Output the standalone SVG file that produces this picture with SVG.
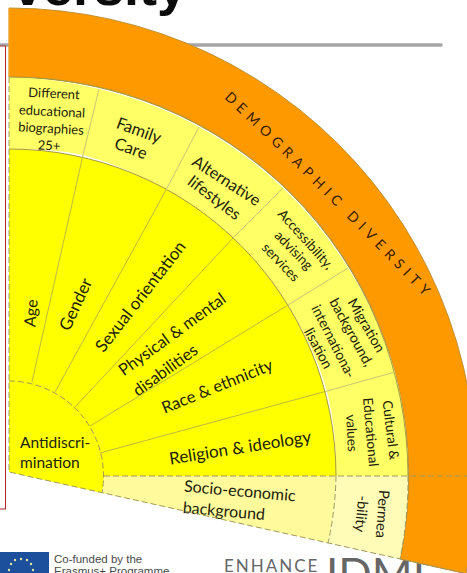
<svg xmlns="http://www.w3.org/2000/svg" width="467" height="573" viewBox="0 0 467 573">
<style>
.l{font-family:Lato,"Open Sans",sans-serif;fill:#22220c;text-anchor:middle;dominant-baseline:central}
.edge{stroke:#a89a40;stroke-width:1;fill:none}
.dash{stroke:#a09a60;stroke-width:1;fill:none;stroke-dasharray:6 3}
.div{stroke:#bcbc40;stroke-width:1;fill:none}
.div2{stroke:#c8c870;stroke-width:1;fill:none}
.star{fill:#e8e6a0}
</style>
<rect width="467" height="573" fill="#fff"/>
<text id="title" x="187" y="5" font-family="Liberation Sans,sans-serif" font-weight="700" font-size="54" text-anchor="end" fill="#0c0c0c">versity</text>
<path id="rule" d="M-2 45H441" stroke="#a6a6a6" stroke-width="3.5" stroke-linecap="round" fill="none"/>
<rect id="frame" x="-2" y="46" width="7.5" height="463" fill="#fff" stroke="#b02828" stroke-width="1"/>
<g id="footer">
<rect x="0" y="552" width="49" height="22" fill="#1c4f9c"/>
<g class="star"><circle cx="21" cy="559" r="1.2"/><circle cx="15" cy="560" r="1.2"/><circle cx="27" cy="560" r="1.2"/><circle cx="11" cy="564" r="1.2"/><circle cx="31" cy="564" r="1.2"/><circle cx="9" cy="570" r="1.2"/><circle cx="33" cy="570" r="1.2"/></g>
<text x="54" y="563" font-family="Liberation Sans,sans-serif" font-size="11.5" fill="#4a4a4a">Co-funded by the</text>
<text x="54" y="575" font-family="Liberation Sans,sans-serif" font-size="11.5" fill="#4a4a4a">Erasmus+ Programme</text>
<text x="224" y="572" font-family="Lato,sans-serif" font-size="17" letter-spacing="2" fill="#666">ENHANCE</text>
<text x="326" y="590" font-family="Lato,sans-serif" font-size="44" fill="#666">IDMI</text>
</g>
<g id="orange-band">
<path d="M9 8A468 468 0 0 1 466 573.6L400 559A399 399 0 0 0 9 77Z" fill="#ff9900" stroke="#c09030" stroke-width="1"/>
<path d="M9 8V77" stroke="#ffb030" fill="none"/>
<text font-family="Lato,sans-serif" font-size="14" fill="#3a2000" letter-spacing="5.25"><textPath href="#demo">DEMOGRAPHIC DIVERSITY</textPath></text>
<path id="demo" d="M224 98Q330 198 445 318" fill="none"/>
</g>
<g id="node-different"><path d="M9 77A399 399 0 0 1 99 89L83 155A327 327 0 0 0 9 149Z" fill="#ffff66"/>
<text class="l" font-size="13" transform="translate(54 93) rotate(3)">Different</text>
<text class="l" font-size="13" transform="translate(52 111) rotate(3)">educational</text>
<text class="l" font-size="13" transform="translate(51 128) rotate(3)">biographies</text>
<text class="l" font-size="13" transform="translate(49 145) rotate(3)">25+</text></g>
<g id="node-family"><path d="M99 89A399 399 0 0 1 199 127L166 190A327 327 0 0 0 83 155Z" fill="#ffff66"/>
<text class="l" font-size="16.5" transform="translate(139 130) rotate(20)">Family</text>
<text class="l" font-size="16.5" transform="translate(131 148) rotate(20)">Care</text></g>
<g id="node-alternative"><path d="M199 127A399 399 0 0 1 283 188L233 238A327 327 0 0 0 166 190Z" fill="#ffff66"/>
<text class="l" font-size="16" transform="translate(227 180) rotate(33)">Alternative</text>
<text class="l" font-size="16" transform="translate(215 197) rotate(37)">lifestyles</text></g>
<g id="node-accessibility"><path d="M283 188A399 399 0 0 1 348 268L288 305A327 327 0 0 0 233 238Z" fill="#ffff66"/>
<text class="l" font-size="13.5" transform="translate(306 239) rotate(48)">Accessibility,</text>
<text class="l" font-size="13.5" transform="translate(294 250) rotate(46)">advising</text>
<text class="l" font-size="13.5" transform="translate(281 262) rotate(46)">services</text></g>
<g id="node-migration"><path d="M348 268A399 399 0 0 1 395 372L327 391A327 327 0 0 0 288 305Z" fill="#ffff66"/>
<text class="l" font-size="14" transform="translate(367 325) rotate(60)">Migration</text>
<text class="l" font-size="14" transform="translate(352 332) rotate(61)">background,</text>
<text class="l" font-size="14" transform="translate(334 341) rotate(63)">internationa-</text>
<text class="l" font-size="14" transform="translate(319 348) rotate(62)">lisation</text></g>
<g id="node-cultural"><path d="M395 372A399 399 0 0 1 408 476H336A327 327 0 0 0 327 391Z" fill="#ffff66"/>
<text class="l" font-size="13.5" transform="translate(391 430) rotate(83)">Cultural &amp;</text>
<text class="l" font-size="13.5" transform="translate(371 432) rotate(85)">Educational</text>
<text class="l" font-size="13.5" transform="translate(352 433) rotate(87)">values</text></g>
<g id="node-core"><path d="M9 149A327 327 0 0 1 336 476H104A95 95 0 0 1 102 493L9 472Z" fill="#ffff00"/></g>
<g id="node-age"><text class="l" font-size="16" transform="translate(30 313) rotate(-85)">Age</text></g>
<g id="node-gender"><text class="l" font-size="17" transform="translate(75 304) rotate(-65)">Gender</text></g>
<g id="node-sexual"><text class="l" font-size="17" transform="translate(140 296) rotate(-52)">Sexual orientation</text></g>
<g id="node-physical"><text class="l" font-size="16.5" transform="translate(172 334) rotate(-36)">Physical &amp; mental</text>
<text class="l" font-size="16.5" transform="translate(165 370) rotate(-36)">disabilities</text></g>
<g id="node-race"><text class="l" font-size="16.5" transform="translate(217 386) rotate(-22)">Race &amp; ethnicity</text></g>
<g id="node-religion"><text class="l" font-size="17" transform="translate(240 447) rotate(-9)">Religion &amp; ideology</text></g>
<g id="node-antidiscrimination"><text class="l" font-size="15.5" style="text-anchor:start" x="20" y="442">Antidiscri-</text>
<text class="l" font-size="15.5" style="text-anchor:start" x="20" y="462">mination</text></g>
<g id="node-socio"><path d="M104 476H336A327 327 0 0 1 328 543L102 493A95 95 0 0 0 104 476Z" fill="#fffa9c"/>
<text class="l" font-size="16" transform="translate(240 490) rotate(5)">Socio-economic</text>
<text class="l" font-size="16" transform="translate(224 510) rotate(5)">background</text></g>
<g id="node-permeability"><path d="M336 476H408A399 399 0 0 1 400 559L328 543A327 327 0 0 0 336 476Z" fill="#fffcb8"/>
<text class="l" font-size="14.5" transform="translate(383 514) rotate(94)">Permea</text>
<text class="l" font-size="14.5" transform="translate(362 514) rotate(95)">-bility</text></g>
<g id="connectors">
<path class="edge" d="M9 149A327 327 0 0 1 336 476"/>
<path class="edge" d="M9 77A399 399 0 0 1 408 476"/>
<path class="dash" d="M9 77V472L466 573.6"/>
<path class="dash" d="M9 381A95 95 0 0 1 102 493"/>
<path class="dash" d="M336 476A327 327 0 0 1 328 543"/>
<path class="dash" d="M408 476A399 399 0 0 1 400 559"/>
<path class="dash" d="M104 476H467"/>
<path class="div" d="M32 382L83 155"/><path class="div2" d="M83 155L99 89"/>
<path class="div" d="M55 392L166 190"/><path class="div2" d="M166 190L199 127"/>
<path class="div" d="M75 407L233 238"/><path class="div2" d="M233 238L283 188"/>
<path class="div" d="M90 426L288 305"/><path class="div2" d="M288 305L348 268"/>
<path class="div" d="M100 453L327 391"/><path class="div2" d="M327 391L395 372"/>
</g>
</svg>
